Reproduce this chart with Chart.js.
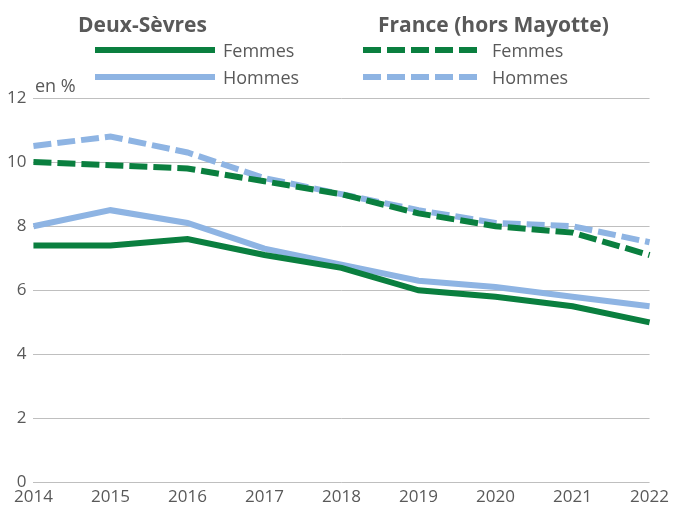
<!DOCTYPE html>
<html>
<head>
<meta charset="utf-8">
<script src="https://cdn.jsdelivr.net/npm/chart.js@4/dist/chart.umd.min.js"></script>
<style>
    body { margin: 0; padding: 0; overflow: hidden; background: #fff; font-family: 'Open Sans', sans-serif; }
    #wrap { position: relative; width: 673px; height: 511px; }
    .title { position: absolute; font-weight: bold; font-size: 21px; color: #595959; top: 10px; }
    .item { position: absolute; font-size: 18px; color: #595959; display: flex; align-items: center; }
    #unit { position: absolute; left: 35px; top: 73px; font-size: 18px; color: #595959; }
</style>
</head>
<body>
<div id="wrap">
    <canvas id="chartCanvas" width="673" height="511"></canvas>
    <div class="title" style="left:78px">Deux-Sèvres</div>
    <div class="title" style="left:378px">France (hors Mayotte)</div>
    <div id="legend"></div>
    <div id="unit">en %</div>
</div>
<script>
const years = ['2014', '2015', '2016', '2017', '2018', '2019', '2020', '2021', '2022'];
const dsFemmes = [7.4, 7.4, 7.6, 7.1, 6.7, 6.0, 5.8, 5.5, 5.0];
const dsHommes = [8.0, 8.5, 8.1, 7.3, 6.8, 6.3, 6.1, 5.8, 5.5];
const frFemmes = [10.0, 9.9, 9.8, 9.4, 9.0, 8.4, 8.0, 7.8, 7.1];
const frHommes = [10.5, 10.8, 10.3, 9.5, 9.0, 8.5, 8.1, 8.0, 7.5];

const green = '#0a7f3f';
const blue = '#8eb4e3';
const dash = [18, 6];

const makeSet = (label, data, color, dashed) => ({
    label,
    data,
    borderColor: color,
    borderWidth: 6,
    borderDash: dashed ? dash : [],
    pointRadius: 0,
    tension: 0,
    fill: false,
});

// legend entries drawn as html next to the canvas
const legendItems = [
    { text: 'Femmes', color: green, dashed: false, left: 95, top: 50, width: 120, gap: 8 },
    { text: 'Hommes', color: blue, dashed: false, left: 95, top: 77, width: 120, gap: 8 },
    { text: 'Femmes', color: green, dashed: true, left: 363, top: 50, width: 114, gap: 15 },
    { text: 'Hommes', color: blue, dashed: true, left: 363, top: 77, width: 114, gap: 15 },
];

const legend = document.getElementById('legend');
legend.innerHTML = legendItems.map((item) => {
    const dashAttr = item.dashed ? `stroke-dasharray="${dash.join(' ')}"` : '';
    return `<div class="item" style="left:${item.left}px;top:${item.top - 12}px">
        <svg width="${item.width}" height="24" style="margin-right:${item.gap}px"><line x1="0" y1="12" x2="${item.width}" y2="12" stroke="${item.color}" stroke-width="6" ${dashAttr}/></svg>${item.text}
    </div>`;
}).join('');

const ctx = document.getElementById('chartCanvas').getContext('2d');
new Chart(ctx, {
    type: 'line',
    data: {
        labels: years,
        datasets: [
            makeSet('Deux-Sèvres Femmes', dsFemmes, green, false),
            makeSet('Deux-Sèvres Hommes', dsHommes, blue, false),
            makeSet('France Femmes', frFemmes, green, true),
            makeSet('France Hommes', frHommes, blue, true),
        ],
    },
    options: {
        responsive: false,
        animation: false,
        layout: { padding: { top: 98, right: 2, left: 0, bottom: 0 } },
        plugins: { legend: { display: false }, tooltip: { enabled: false } },
        scales: {
            x: {
                offset: false,
                grid: { display: false, drawTicks: false },
                border: { display: false },
                ticks: { color: '#595959', font: { family: 'Open Sans', size: 17 }, maxRotation: 0, padding: 4 },
            },
            y: {
                min: 0,
                max: 12,
                grid: { color: '#bfbfbf', lineWidth: 1, drawTicks: false },
                border: { display: false },
                ticks: { stepSize: 2, color: '#595959', font: { family: 'Open Sans', size: 17 }, padding: 7 },
            },
        },
    },
});
</script>
</body>
</html>
